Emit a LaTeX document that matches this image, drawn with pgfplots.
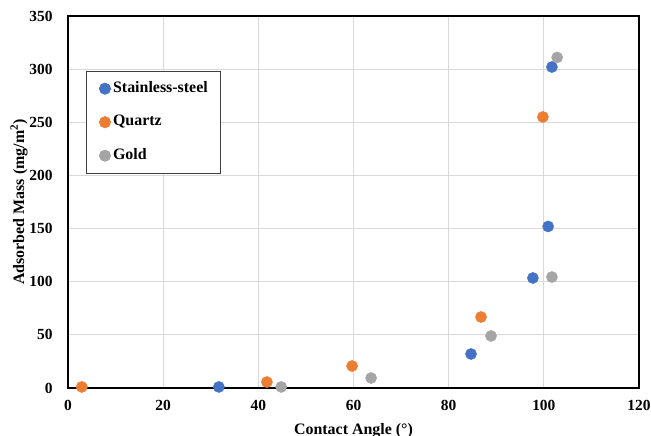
\documentclass[border=0pt]{standalone}
\usepackage{fontspec}
\setmainfont{Liberation Serif}
\usepackage{pgfplots}
\pgfplotsset{compat=1.18}

\definecolor{steelblue}{HTML}{4472C4}
\definecolor{quartzorange}{HTML}{ED7D31}
\definecolor{goldgray}{HTML}{A5A5A5}
\definecolor{gridgray}{HTML}{D9D9D9}

\newcommand{\lblfont}{\bfseries\fontsize{16}{19}\selectfont}
\newcommand{\tickfont}{\bfseries\fontsize{15.5}{18}\selectfont}

\begin{document}
\begin{tikzpicture}
\begin{axis}[
  name=ax,
  scale only axis,
  width=571bp, height=372bp,
  xmin=0, xmax=120, ymin=0, ymax=350,
  xtick distance=20, ytick distance=50,
  major tick length=0pt,
  grid=major,
  major grid style={draw=gridgray, line width=0.8pt},
  axis line style={draw=black, line width=1.5bp},
  clip=false,
  /pgf/number format/assume math mode=true,
  ticklabel style={font=\tickfont},
  xticklabel style={yshift=-9bp},
  yticklabel style={xshift=-12bp},
  xlabel={Contact Angle (°)},
  ylabel={Adsorbed Mass (mg/m\textsuperscript{2})},
  every axis x label/.style={at={(axis description cs:0.5,-0.1263)}, anchor=base, font=\lblfont},
  every axis y label/.style={at={(axis description cs:-0.077,0.5)}, rotate=90, anchor=base, font=\lblfont},
  legend style={
    at={(axis description cs:0.0315,0.852)}, anchor=north west,
    draw=black!75, line width=0.8pt,
    inner xsep=13bp, inner ysep=10bp,
    row sep=19bp,
    font=\lblfont,
    nodes={inner sep=0pt, text height=11bp, text depth=3.5bp},
    /tikz/every odd column/.append style={column sep=2.5bp},
  },
  legend cell align=left,
  legend image code/.code={\draw[#1] plot coordinates {(0bp,0bp)};},
]
% Stainless-steel
\addplot[only marks, mark=*, mark size=5.6bp, color=steelblue]
  coordinates {(31.7,1) (84.7,32) (97.7,103.5) (100.9,152) (101.7,302)};
\addlegendentry{Stainless-steel}
% Quartz
\addplot[only marks, mark=*, mark size=5.6bp, color=quartzorange]
  coordinates {(2.9,1) (41.8,5.6) (59.7,20.7) (86.8,66.8) (99.8,255)};
\addlegendentry{Quartz}
% Gold
\addplot[only marks, mark=*, mark size=5.6bp, color=goldgray]
  coordinates {(44.8,1) (63.7,9.4) (88.9,49) (101.7,104.4) (102.8,311)};
\addlegendentry{Gold}
\end{axis}
\pgfresetboundingbox
\useasboundingbox ([shift={(-68bp,-48bp)}]ax.south west) rectangle ([shift={(12bp,16bp)}]ax.north east);
\end{tikzpicture}
\end{document}
